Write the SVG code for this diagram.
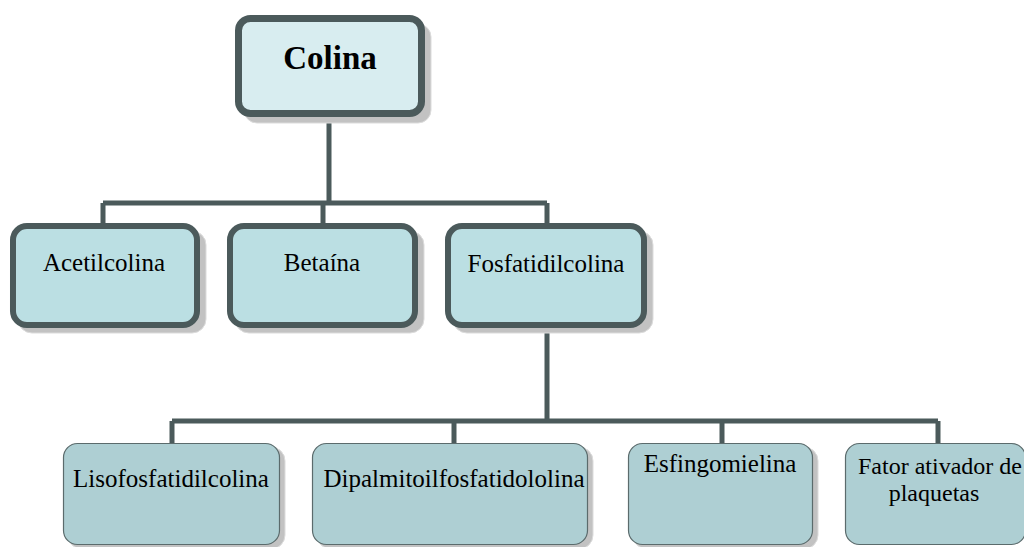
<svg xmlns="http://www.w3.org/2000/svg" width="1024" height="547" viewBox="0 0 1024 547">
<style>
.sh{fill:#c2c2c2;stroke:#dcdcdc;stroke-width:1}
.top{fill:#d8edf0;stroke:#4b5a5b;stroke-width:7}
.mid{fill:#bbdfe3;stroke:#4b5a5b;stroke-width:6}
.low{fill:#aecfd3;stroke:#5b6b6c;stroke-width:1.2}
.c{fill:none;stroke:#4b5a5b;stroke-width:5}
text{font-family:"Liberation Serif","Times New Roman",serif;fill:#000;text-anchor:middle}
.t1{font-size:33px;font-weight:bold}
.t2{font-size:25px}
.t3{font-size:25px}
</style>
<rect width="1024" height="547" fill="#ffffff"/>
<g id="connectors">
<path class="c" d="M329,117 V203 M103,203 H547 M103,203 V223 M323,203 V223 M547,203 V223"/>
<path class="c" d="M547,328 V421 M172,421 H938 M172,421 V443 M454,421 V443 M722,421 V443 M938,421 V443"/>
</g>
<g id="colina">
<rect class="sh" x="244" y="24" width="187" height="99" rx="13"/>
<rect class="top" x="238.5" y="18.5" width="183" height="95" rx="12"/>
<text class="t1" x="330" y="69">Colina</text>
</g>
<g id="acetilcolina">
<rect class="sh" x="18" y="231" width="188" height="102" rx="14"/>
<rect class="mid" x="13" y="226" width="184" height="99" rx="14"/>
<text class="t2" x="104" y="271">Acetilcolina</text>
</g>
<g id="betaina">
<rect class="sh" x="235" y="231" width="189" height="102" rx="14"/>
<rect class="mid" x="230" y="226" width="185" height="99" rx="14"/>
<text class="t2" x="322" y="271">Betaína</text>
</g>
<g id="fosfatidilcolina">
<rect class="sh" x="453" y="231" width="200" height="102" rx="14"/>
<rect class="mid" x="448" y="226" width="196" height="99" rx="14"/>
<text class="t2" x="546" y="272">Fosfatidilcolina</text>
</g>
<g id="lisofosfatidilcolina">
<rect class="sh" x="68" y="447" width="217" height="102" rx="14"/>
<rect class="low" x="63.5" y="443.5" width="216" height="101" rx="14"/>
<text class="t3" x="171" y="487">Lisofosfatidilcolina</text>
</g>
<g id="dipalmitoilfosfatidololina">
<rect class="sh" x="317" y="447" width="276" height="102" rx="14"/>
<rect class="low" x="312.5" y="443.5" width="275" height="101" rx="14"/>
<text class="t3" x="454" y="487">Dipalmitoilfosfatidololina</text>
</g>
<g id="esfingomielina">
<rect class="sh" x="633" y="447" width="185" height="102" rx="14"/>
<rect class="low" x="628.5" y="443.5" width="184" height="101" rx="14"/>
<text class="t3" x="720" y="472">Esfingomielina</text>
</g>
<g id="fator">
<rect class="low" x="845.5" y="443.5" width="180" height="101" rx="14"/>
<text class="t3" x="940" y="474" style="font-size:24px">Fator ativador de</text>
<text class="t3" x="934" y="501" style="font-size:24px">plaquetas</text>
</g>
</svg>
